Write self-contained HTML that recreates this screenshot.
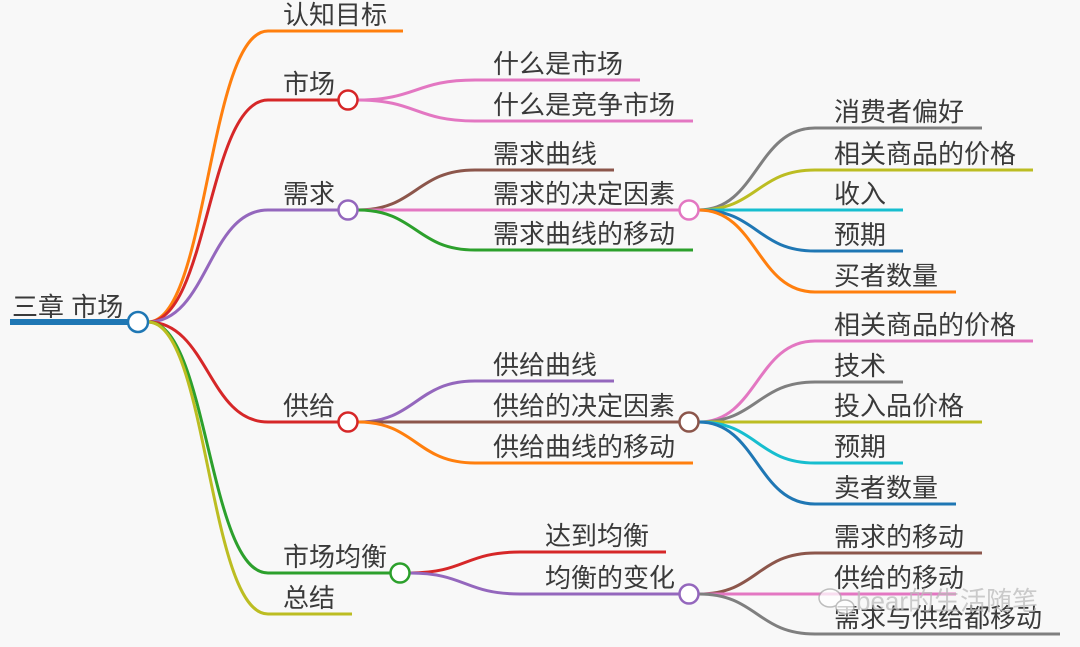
<!DOCTYPE html>
<html><head><meta charset="utf-8"><style>
html,body{margin:0;padding:0;background:#f8f8f8;}
svg{display:block;}
text{font-family:"Liberation Sans","Noto Sans CJK SC",sans-serif;font-size:26px;fill:#3a3a3a;}
path{fill:none;stroke-width:3;}
circle{fill:#fff;stroke-width:2.5;}
</style></head><body>
<svg width="1080" height="647" viewBox="0 0 1080 647" xmlns="http://www.w3.org/2000/svg">
<rect width="1080" height="647" fill="#f8f8f8"/>
<line x1="10" y1="322" x2="130" y2="322" stroke="#1f77b4" stroke-width="6"/>
<text x="12" y="316">三章 市场</text>
<path stroke="#ff7f0e" d="M148 322 C208 322 208 31 268 31 L403 31"/>
<path stroke="#d62728" d="M148 322 C208 322 208 100 268 100 L338 100"/>
<path stroke="#9467bd" d="M148 322 C208 322 208 210 268 210 L338 210"/>
<path stroke="#d62728" d="M148 322 C208 322 208 422 268 422 L338 422"/>
<path stroke="#2ca02c" d="M148 322 C208 322 208 573 268 573 L390 573"/>
<path stroke="#bcbd22" d="M148 322 C208 322 208 614 268 614 L352 614"/>
<text x="283" y="24">认知目标</text>
<text x="283" y="93">市场</text>
<text x="283" y="203">需求</text>
<text x="283" y="415">供给</text>
<text x="283" y="566">市场均衡</text>
<text x="283" y="607">总结</text>
<path stroke="#e377c2" d="M358 100 C416 100 416 80 475 80 L640 80"/>
<path stroke="#e377c2" d="M358 100 C416 100 416 121 475 121 L693 121"/>
<path stroke="#8c564b" d="M358 210 C416 210 416 170 475 170 L614 170"/>
<path stroke="#e377c2" d="M358 210 L679 210"/>
<path stroke="#2ca02c" d="M358 210 C416 210 416 250 475 250 L693 250"/>
<path stroke="#9467bd" d="M358 422 C416 422 416 381 475 381 L614 381"/>
<path stroke="#8c564b" d="M358 422 L679 422"/>
<path stroke="#ff7f0e" d="M358 422 C416 422 416 463 475 463 L693 463"/>
<path stroke="#d62728" d="M410 573 C465 573 465 552 520 552 L666 552"/>
<path stroke="#9467bd" d="M410 573 C465 573 465 594 520 594 L679 594"/>
<text x="493" y="73">什么是市场</text>
<text x="493" y="114">什么是竞争市场</text>
<text x="493" y="163">需求曲线</text>
<text x="493" y="203">需求的决定因素</text>
<text x="493" y="243">需求曲线的移动</text>
<text x="493" y="374">供给曲线</text>
<text x="493" y="415">供给的决定因素</text>
<text x="493" y="456">供给曲线的移动</text>
<text x="545" y="545">达到均衡</text>
<text x="545" y="587">均衡的变化</text>
<path stroke="#7f7f7f" d="M699 210 C757 210 757 128 815 128 L982 128"/>
<path stroke="#bcbd22" d="M699 210 C757 210 757 170 815 170 L1033 170"/>
<path stroke="#17becf" d="M699 210 L903 210"/>
<path stroke="#1f77b4" d="M699 210 C757 210 757 251 815 251 L903 251"/>
<path stroke="#ff7f0e" d="M699 210 C757 210 757 292 815 292 L956 292"/>
<path stroke="#e377c2" d="M699 422 C757 422 757 341 815 341 L1033 341"/>
<path stroke="#7f7f7f" d="M699 422 C757 422 757 382 815 382 L903 382"/>
<path stroke="#bcbd22" d="M699 422 L982 422"/>
<path stroke="#17becf" d="M699 422 C757 422 757 463 815 463 L903 463"/>
<path stroke="#1f77b4" d="M699 422 C757 422 757 504 815 504 L956 504"/>
<path stroke="#8c564b" d="M699 594 C757 594 757 553 815 553 L982 553"/>
<path stroke="#e377c2" d="M699 594 L956 594"/>
<path stroke="#7f7f7f" d="M699 594 C757 594 757 634 815 634 L1060 634"/>
<text x="834" y="121">消费者偏好</text>
<text x="834" y="163">相关商品的价格</text>
<text x="834" y="203">收入</text>
<text x="834" y="244">预期</text>
<text x="834" y="285">买者数量</text>
<text x="834" y="334">相关商品的价格</text>
<text x="834" y="375">技术</text>
<text x="834" y="415">投入品价格</text>
<text x="834" y="456">预期</text>
<text x="834" y="497">卖者数量</text>
<text x="834" y="546">需求的移动</text>
<text x="834" y="587">供给的移动</text>
<text x="834" y="627">需求与供给都移动</text>
<circle cx="138" cy="322" r="10" stroke="#1f77b4"/>
<circle cx="348" cy="100" r="9.5" stroke="#d62728"/>
<circle cx="348" cy="210" r="9.5" stroke="#9467bd"/>
<circle cx="348" cy="422" r="9.5" stroke="#d62728"/>
<circle cx="400" cy="573" r="9.5" stroke="#2ca02c"/>
<circle cx="689" cy="210" r="9.5" stroke="#e377c2"/>
<circle cx="689" cy="422" r="9.5" stroke="#8c564b"/>
<circle cx="689" cy="594" r="9.5" stroke="#9467bd"/>
<g opacity="0.75">
<ellipse cx="830" cy="598" rx="11" ry="9" fill="#fff" stroke="#aaa" stroke-width="1.5"/>
<ellipse cx="845" cy="607" rx="9" ry="7" fill="#fff" stroke="#aaa" stroke-width="1.5"/>
<text x="856" y="610" style="fill:#bbb;font-size:26px;">bear的生活随笔</text>
</g>
</svg>
</body></html>
